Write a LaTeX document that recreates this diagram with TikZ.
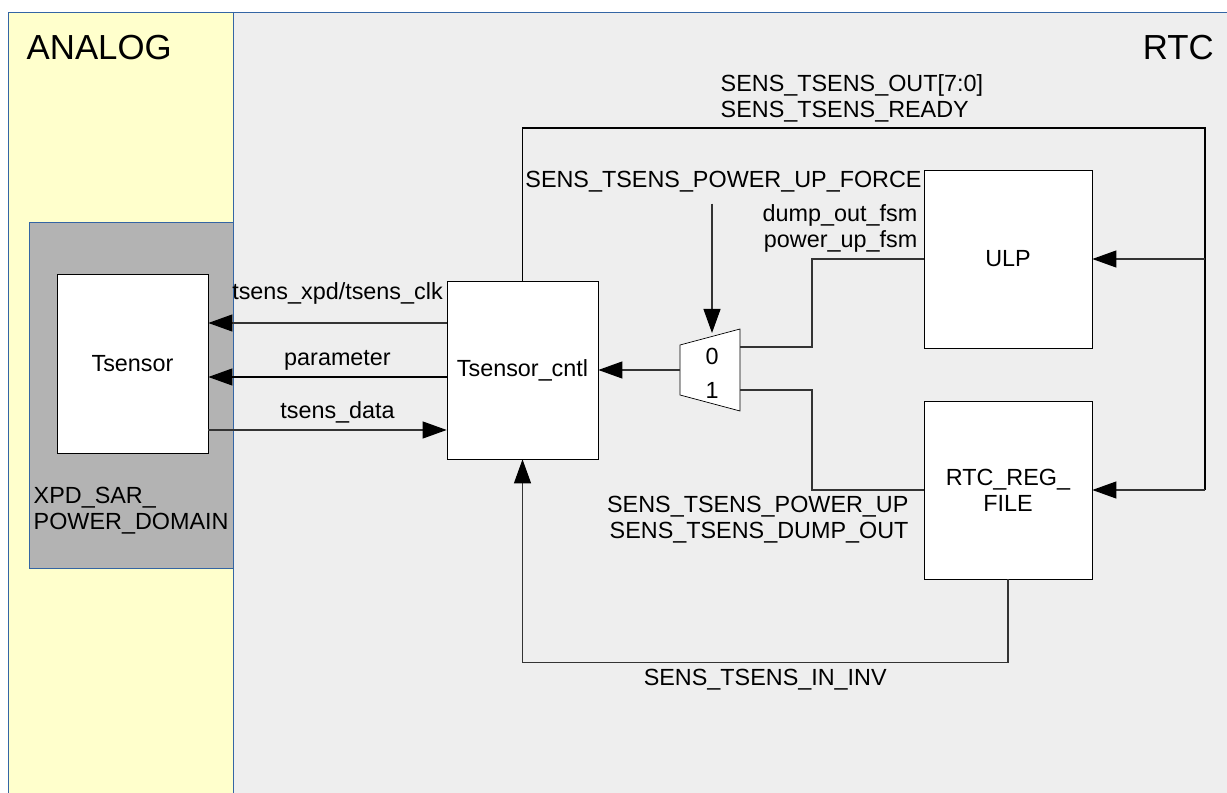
\documentclass[tikz,border=0pt]{standalone}
\usepackage{fontspec}
\setmainfont{Liberation Sans}
\usetikzlibrary{arrows.meta}
\definecolor{analogbg}{HTML}{FFFFCC}
\definecolor{rtcbg}{HTML}{EEEEEE}
\definecolor{domainbg}{HTML}{B3B3B3}
\definecolor{frameblue}{HTML}{3465A4}

\begin{document}
\begin{tikzpicture}[>={Triangle[length=4.8mm,width=3.4mm,color=black]},
    every node/.style={font=\fontsize{13.3}{14.8}\selectfont},
    blk/.style={draw, fill=white, minimum width=3.02cm, minimum height=3.56cm, align=center},
    wire/.style={draw=black!80, line width=0.6pt},
    title/.style={font=\fontsize{19.8}{22}\selectfont}]
    \useasboundingbox (0,0) rectangle (24.54,-15.86);
    % regions
    \fill[analogbg] (0.16,-0.24) rectangle (4.66,-15.86);
    \fill[rtcbg] (4.66,-0.24) rectangle (24.54,-15.86);
    \draw[frameblue] (0.16,-15.86) -- (0.16,-0.24) -- (24.54,-0.24);
    \draw[frameblue] (4.66,-0.24) -- (4.66,-15.86);
    \draw[frameblue, fill=domainbg] (0.58,-4.44) rectangle (4.66,-11.36);
    \node[title, anchor=west] (analog) at (0.41,-0.96) {ANALOG};
    \node[title, anchor=east] (rtc) at (24.40,-0.96) {RTC};
    \node[anchor=north west, align=left] (domain) at (0.55,-9.62) {XPD\_SAR\_\\POWER\_DOMAIN};

    % blocks
    \node[blk, minimum height=3.58cm] (tsensor) at (2.65,-7.27) {Tsensor};
    \node[blk] (cntl) at (10.45,-7.40) {Tsensor\_cntl};
    \node[blk, minimum width=3.36cm] (ulp) at (20.16,-5.18) {ULP};
    \node[blk, minimum width=3.36cm] (regfile) at (20.16,-9.80) {RTC\_REG\_\\FILE};

    % mux
    \coordinate (muxtl) at (13.60,-6.90);
    \coordinate (muxtr) at (14.80,-6.58);
    \coordinate (muxbr) at (14.80,-8.22);
    \coordinate (muxbl) at (13.60,-7.90);
    \draw[fill=white] (muxtl) -- (muxtr) -- (muxbr) -- (muxbl) -- cycle;
    \node (sel0) at (14.24,-7.12) {0};
    \node (sel1) at (14.24,-7.80) {1};
    \coordinate (muxout) at (13.60,-7.40);
    \coordinate (muxin0) at (14.80,-6.94);
    \coordinate (muxin1) at (14.80,-7.80);
    \coordinate (muxsel) at (14.24,-6.66);

    % analog side
    \draw[wire, ->] ([yshift=0.94cm]cntl.west) -- ([yshift=0.94cm]cntl.west -| tsensor.east)
        node[midway, above, xshift=2mm, yshift=2.5mm] {tsens\_xpd/tsens\_clk};
    \draw[wire, black, ->] ([yshift=-0.14cm]cntl.west) -- ([yshift=-0.14cm]cntl.west -| tsensor.east)
        node[midway, above, xshift=2mm] {parameter};
    \draw[wire, ->] ([yshift=-1.2cm]cntl.west -| tsensor.east) -- ([yshift=-1.2cm]cntl.west)
        node[midway, above, xshift=2mm] {tsens\_data};

    % mux in and out
    \draw[wire, ->] (muxout) -- (cntl.east);
    \node (forcelbl) at (14.47,-3.64) {SENS\_TSENS\_POWER\_UP\_FORCE};
    \draw[wire, ->] ([yshift=-1mm]forcelbl.south -| muxsel) -- (muxsel);
    \draw[wire] (muxin0) -- ++(1.44,0) |- (ulp.west)
        node[pos=1, anchor=south east, align=right] {dump\_out\_fsm\\power\_up\_fsm};
    \draw[wire] (muxin1) -- ++(1.44,0) |- (regfile.west);
    \node[anchor=north east, align=right] (pwrlbl) at ([xshift=-1.8mm]regfile.west) {SENS\_TSENS\_POWER\_UP\\SENS\_TSENS\_DUMP\_OUT};

    % loops
    \coordinate (busr) at (24.10,-2.56);
    \draw[wire, black, line width=1pt] (cntl.north) |- (busr) -- (busr |- regfile.east);
    \draw[wire, ->] (busr |- ulp.east) -- (ulp.east);
    \draw[wire, ->] (busr |- regfile.east) -- (regfile.east);
    \node[anchor=south west, align=left] (outlbl) at (14.29,-2.56) {SENS\_TSENS\_OUT[7:0]\\SENS\_TSENS\_READY};
    \draw[wire, ->] (regfile.south) -- ++(0,-1.66) -| (cntl.south)
        node[pos=0.25, below] {SENS\_TSENS\_IN\_INV};
\end{tikzpicture}
\end{document}
